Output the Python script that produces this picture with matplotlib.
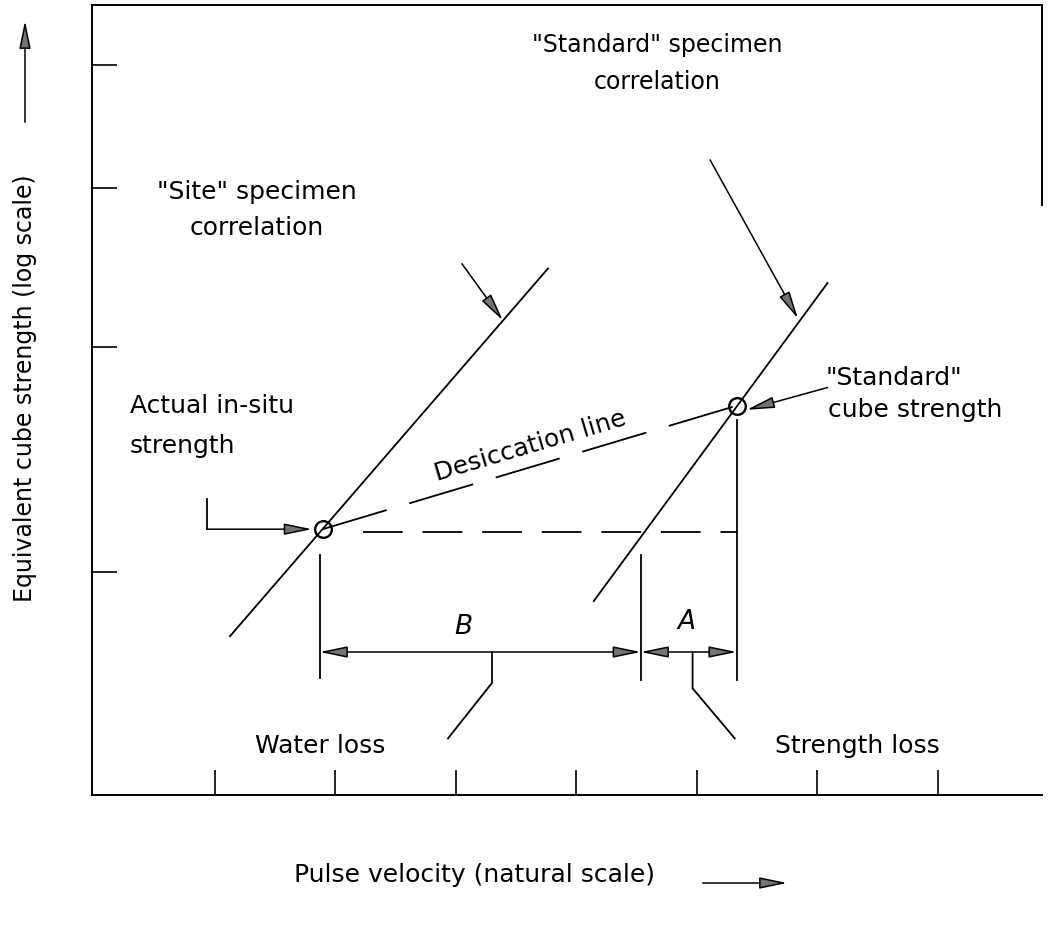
import matplotlib
matplotlib.use('Agg')
import matplotlib.pyplot as plt
from matplotlib.ticker import FixedLocator, NullLocator, NullFormatter

# axes ticks (unlabelled in the original sketch)
vel_ticks = [3.8, 4.0, 4.2, 4.4, 4.6, 4.8, 5.0]
str_ticks = [20, 30, 40, 50]
vel_lim = (3.596, 5.173)
str_lim = (13.36, 55.7)

# correlation lines
site_vel = [3.825, 4.353]
site_str = [17.8, 34.6]
std_vel = [4.429, 4.817]
std_str = [18.97, 33.7]

# key points
insitu_vel, insitu_str = 3.979, 21.6
stdcube_vel, stdcube_str = 4.666, 27.0

# horizontal dashed level from the in-situ point
level_vel = [4.046, 4.666]
level_str = [21.5, 21.5]

# extension lines for the A / B dimensions
ext_vel = [3.974, 4.507, 4.666]
ext_top = [20.6, 20.6, 26.3]
ext_bot = [16.5, 16.44, 16.44]
dim_str = 17.3

# leader lines to "Water loss" / "Strength loss"
water_vel = [4.260, 4.260, 4.187]
water_str = [17.3, 16.36, 14.8]
sloss_vel = [4.593, 4.593, 4.663]
sloss_str = [17.3, 16.2, 14.8]
insitu_lead_vel = [3.787, 3.787, 3.961]
insitu_lead_str = [22.8, 21.6, 21.6]

plt.rcParams['font.family'] = ['DejaVu Sans']
fig = plt.figure(figsize=(10.49, 9.35), dpi=100)
ax = fig.add_axes([0.0877, 0.1497, 0.9056, 0.845])
ax.set_yscale('log')
ax.set_xlim(*vel_lim)
ax.set_ylim(*str_lim)

lw = 1.3
ax.xaxis.set_major_locator(FixedLocator(vel_ticks))
ax.yaxis.set_major_locator(FixedLocator(str_ticks))
ax.yaxis.set_minor_locator(NullLocator())
ax.xaxis.set_major_formatter(NullFormatter())
ax.yaxis.set_major_formatter(NullFormatter())
ax.yaxis.set_minor_formatter(NullFormatter())
ax.tick_params(direction='in', length=18, width=1.2, color='k')
for s in ax.spines.values():
    s.set_linewidth(1.4)
ax.spines['right'].set_bounds(38.8, str_lim[1])

# correlation lines
ax.plot(site_vel, site_str, color='k', lw=lw)
ax.plot(std_vel, std_str, color='k', lw=lw)

# desiccation line (dashed) and level line
ax.plot([insitu_vel, stdcube_vel], [insitu_str, stdcube_str], color='k', lw=lw,
        linestyle=(0, (37, 13)))
ax.plot(level_vel, level_str, color='k', lw=lw, linestyle=(0, (22, 11)))

# circles
ax.plot([insitu_vel, stdcube_vel], [insitu_str, stdcube_str], 'o', ms=12,
        mfc='none', mec='k', mew=1.7)

# extension lines
for v, t, b in zip(ext_vel, ext_top, ext_bot):
    ax.plot([v, v], [t, b], color='k', lw=lw)

head = dict(arrowstyle='-|>,head_length=1.7,head_width=0.35', fc='0.45', ec='k',
            lw=1.1, shrinkA=0, shrinkB=0)
both = dict(arrowstyle='<|-|>,head_length=1.7,head_width=0.35', fc='0.45', ec='k',
            lw=1.1, shrinkA=0, shrinkB=0)

# dimension arrows B and A
ax.annotate('', xy=(ext_vel[1], dim_str), xytext=(ext_vel[0], dim_str), arrowprops=both)
ax.annotate('', xy=(ext_vel[2], dim_str), xytext=(ext_vel[1], dim_str), arrowprops=both)
ax.text(4.212, 18.1, 'B', fontsize=19, style='italic', ha='center', va='center')
ax.text(4.582, 18.26, 'A', fontsize=19, style='italic', ha='center', va='center')

# leaders
ax.plot(water_vel, water_str, color='k', lw=lw)
ax.plot(sloss_vel, sloss_str, color='k', lw=lw)
ax.plot(insitu_lead_vel[:2], insitu_lead_str[:2], color='k', lw=lw)
ax.annotate('', xy=(insitu_lead_vel[2], insitu_lead_str[2]),
            xytext=(insitu_lead_vel[1], insitu_lead_str[1]), arrowprops=head)

# pointer arrows
ax.annotate('', xy=(4.278, 31.5), xytext=(4.210, 34.9), arrowprops=head)
ax.annotate('', xy=(4.768, 31.6), xytext=(4.622, 42.1), arrowprops=head)
ax.annotate('', xy=(4.683, 26.8), xytext=(4.817, 27.9), arrowprops=head)

fs = 18
ax.text(4.534, 51.8, '"Standard" specimen', fontsize=17, ha='center', va='center')
ax.text(4.534, 48.5, 'correlation', fontsize=17, ha='center', va='center')
ax.text(3.870, 39.7, '"Site" specimen', fontsize=fs, ha='center', va='center')
ax.text(3.870, 37.2, 'correlation', fontsize=fs, ha='center', va='center')
ax.text(3.659, 27.0, 'Actual in-situ', fontsize=fs, ha='left', va='center')
ax.text(3.659, 25.1, 'strength', fontsize=fs, ha='left', va='center')
ax.text(4.323, 25.1, 'Desiccation line', fontsize=fs, ha='center', va='center',
        rotation=16.5, rotation_mode='anchor')
ax.text(4.814, 28.4, '"Standard"', fontsize=fs, ha='left', va='center')
ax.text(4.817, 26.8, 'cube strength', fontsize=fs, ha='left', va='center')
ax.text(3.974, 14.6, 'Water loss', fontsize=fs, ha='center', va='center')
ax.text(4.866, 14.6, 'Strength loss', fontsize=fs, ha='center', va='center')

# axis titles with arrows, outside the frame
fig.text(0.452, 0.064, 'Pulse velocity (natural scale)', fontsize=18,
         ha='center', va='center')
fig.text(0.024, 0.585, 'Equivalent cube strength (log scale)', fontsize=17,
         ha='center', va='center', rotation=90)
fig.patches.append(matplotlib.patches.FancyArrowPatch(
    (700 / 1049, 1 - 883 / 935), (790 / 1049, 1 - 883 / 935), transform=fig.transFigure,
    arrowstyle='-|>,head_length=17,head_width=3.5', fc='0.45', ec='k', lw=1.1))
fig.patches.append(matplotlib.patches.FancyArrowPatch(
    (25 / 1049, 1 - 125 / 935), (25 / 1049, 1 - 18 / 935), transform=fig.transFigure,
    arrowstyle='-|>,head_length=17,head_width=3.5', fc='0.45', ec='k', lw=1.1))

fig.savefig('out.png', dpi=100)
